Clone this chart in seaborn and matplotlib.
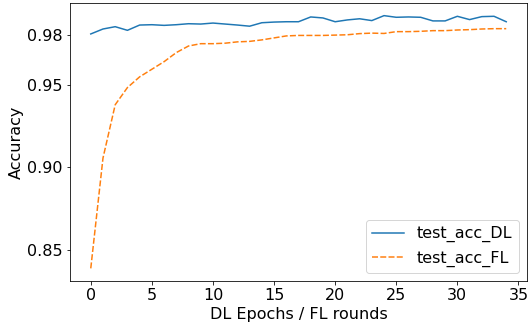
import pandas as pd
import numpy as np
import matplotlib
matplotlib.use("Agg")
import matplotlib.pyplot as plt
import seaborn as sns

epochs = list(range(35))
test_acc_DL = [0.9808, 0.9838, 0.9852, 0.9830, 0.9862, 0.9864, 0.9860, 0.9864, 0.9870, 0.9868,
               0.9874, 0.9868, 0.9862, 0.9855, 0.9876, 0.9880, 0.9882, 0.9882, 0.9911, 0.9905,
               0.9882, 0.9893, 0.9900, 0.9889, 0.9919, 0.9909, 0.9911, 0.9909, 0.9887, 0.9887,
               0.9915, 0.9895, 0.9913, 0.9915, 0.9882]
test_acc_FL = [0.8387, 0.9056, 0.9379, 0.9483, 0.9548, 0.9594, 0.9640, 0.9695, 0.9735, 0.9749,
               0.9749, 0.9752, 0.9760, 0.9763, 0.9772, 0.9784, 0.9796, 0.9799, 0.9799, 0.9799,
               0.9801, 0.9803, 0.9810, 0.9813, 0.9811, 0.9822, 0.9822, 0.9824, 0.9828, 0.9828,
               0.9832, 0.9834, 0.9838, 0.9840, 0.9840]
y_ticks = [0.85, 0.90, 0.95, 0.98]

df = pd.DataFrame({'epoch': epochs + epochs,
                   'acc': test_acc_DL + test_acc_FL,
                   'serie': ['test_acc_DL'] * len(epochs) + ['test_acc_FL'] * len(epochs)})

# picture looks like 72 dpi with a big font
plt.rcParams['font.size'] = 16
fig = plt.figure(figsize=(528/72, 325/72), dpi=72)
ax = fig.add_subplot(111)
fig.subplots_adjust(left=70/528, right=527/528, top=1-3/325, bottom=1-281/325)

sns.lineplot(data=df, x='epoch', y='acc', hue='serie', style='serie',
             palette=['#1f77b4', '#ff7f0e'], ax=ax)
ax.set_yticks(y_ticks)
ax.set_xlabel('DL Epochs / FL rounds')
ax.set_ylabel('Accuracy')
ax.legend(loc='lower right', title=None)

fig.savefig('out.png', dpi=72)
